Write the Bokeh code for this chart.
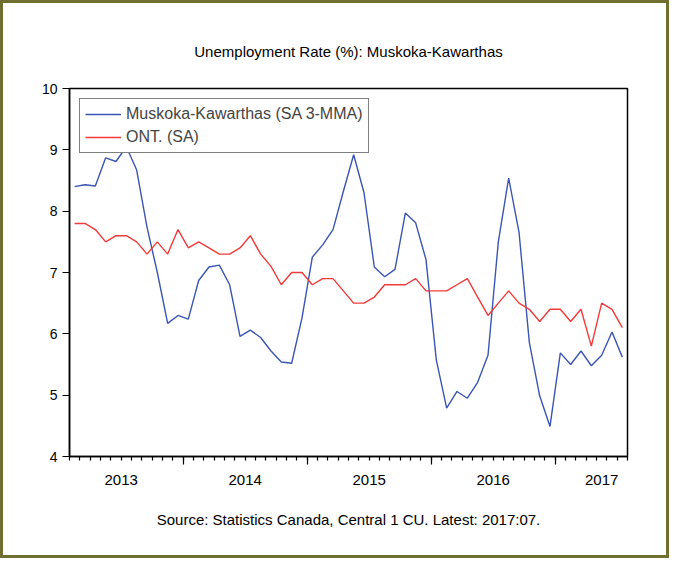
import pandas as pd
from bokeh.plotting import figure
from bokeh.models import FixedTicker, LinearAxis, Range1d, Title
from bokeh.embed import file_html
from bokeh.resources import INLINE

# ---- data -------------------------------------------------------------
months = pd.period_range("2013-02", "2017-07", freq="M")

muskoka = [8.40, 8.43, 8.41, 8.87, 8.81, 9.05, 8.67, 7.74, 7.00, 6.17,
           6.30, 6.24, 6.87, 7.09, 7.12, 6.80, 5.96, 6.06, 5.94, 5.72,
           5.54, 5.52, 6.26, 7.25, 7.45, 7.70, 8.32, 8.92, 8.30, 7.09,
           6.93, 7.05, 7.97, 7.81, 7.21, 5.57, 4.79, 5.06, 4.95, 5.21,
           5.65, 7.50, 8.54, 7.66, 5.86, 4.99, 4.49, 5.69, 5.50, 5.72,
           5.48, 5.65, 6.03, 5.62]

ontario = [7.8, 7.8, 7.7, 7.5, 7.6, 7.6, 7.5, 7.3, 7.5, 7.3,
           7.7, 7.4, 7.5, 7.4, 7.3, 7.3, 7.4, 7.6, 7.3, 7.1,
           6.8, 7.0, 7.0, 6.8, 6.9, 6.9, 6.7, 6.5, 6.5, 6.6,
           6.8, 6.8, 6.8, 6.9, 6.7, 6.7, 6.7, 6.8, 6.9, 6.6,
           6.3, 6.5, 6.7, 6.5, 6.4, 6.2, 6.4, 6.4, 6.2, 6.4,
           5.8, 6.5, 6.4, 6.1]

y_ticks = [4, 5, 6, 7, 8, 9, 10]
series_names = ["Muskoka-Kawarthas (SA 3-MMA)", "ONT. (SA)"]
title_text = "Unemployment Rate (%): Muskoka-Kawarthas"
source_text = "Source: Statistics Canada, Central 1 CU. Latest: 2017:07."

# ---- derived positions ------------------------------------------------
n = len(months)
x = list(range(n))
month_bounds = [i - 0.5 for i in range(n + 1)]
jan_bounds = [i - 0.5 for i, m in enumerate(months) if m.month == 1]
years = sorted(set(m.year for m in months))
# label each year at the middle of its calendar year, kept inside the frame
year_pos = []
for y in years:
    idx = [i for i, m in enumerate(months) if m.year == y]
    start = idx[0] - 0.5 - (months[idx[0]].month - 1)
    year_pos.append(min(start + 6, n - 3))

FONT = "Liberation Sans"
BLUE = "#3a55b4"
RED = "#f23a3a"

p = figure(width=669, height=558,
           x_range=Range1d(-0.5, n - 0.5), y_range=Range1d(4, 10),
           output_backend="svg", toolbar_location=None,
           min_border_left=66, min_border_right=45,
           min_border_top=85, min_border_bottom=105)
p.grid.visible = False
p.outline_line_color = "black"
p.outline_line_width = 1.5
p.background_fill_color = "white"
p.border_fill_color = "white"
p.styles = {"border": "3px solid #6f6f2f"}

# title (above the frame)
p.title.text = title_text
p.title.align = "center"
p.title.vertical_align = "middle"
p.title.text_font = FONT
p.title.text_font_size = "15px"
p.title.text_font_style = "normal"
p.title.text_color = "black"
p.title.standoff = 55

# x axis: month ticks, long ticks at year boundaries, no labels
xa = p.xaxis[0]
xa.ticker = FixedTicker(ticks=jan_bounds, minor_ticks=month_bounds)
xa.major_tick_in = 0
xa.major_tick_out = 8
xa.minor_tick_in = 0
xa.minor_tick_out = 4
xa.major_label_overrides = {t: "" for t in jan_bounds}
xa.major_label_text_font_size = "0px"
xa.axis_line_width = 1.5
xa.major_tick_line_width = 1.2
xa.minor_tick_line_width = 1.2

# second axis carrying the year labels
year_axis = LinearAxis(ticker=FixedTicker(ticks=year_pos),
                       major_label_overrides={pos: str(y) for pos, y in zip(year_pos, years)})
year_axis.axis_line_color = None
year_axis.major_tick_line_color = None
year_axis.minor_tick_line_color = None
year_axis.major_tick_out = 0
year_axis.major_tick_in = 0
year_axis.major_label_standoff = 10
year_axis.major_label_text_font = FONT
year_axis.major_label_text_font_size = "15px"
year_axis.major_label_text_color = "black"
p.add_layout(year_axis, "below")

# source line below
p.add_layout(Title(text=source_text, align="center", vertical_align="middle",
                   text_font=FONT, text_font_size="15px",
                   text_font_style="normal", text_color="black",
                   standoff=44), "below")

ya = p.yaxis[0]
ya.ticker = FixedTicker(ticks=y_ticks)
ya.major_tick_in = 0
ya.major_tick_out = 7
ya.minor_tick_line_color = None
ya.major_label_standoff = 5
ya.major_label_text_font = FONT
ya.major_label_text_font_size = "14px"
ya.major_label_text_color = "black"
ya.axis_line_width = 1.5
ya.major_tick_line_width = 1.2

p.line(x, muskoka, color=BLUE, line_width=1.4, legend_label=series_names[0])
p.line(x, ontario, color=RED, line_width=1.4, legend_label=series_names[1])

lg = p.legend[0]
lg.location = "top_left"
lg.margin = 10
lg.padding = 5
lg.spacing = 3
lg.label_height = 20
lg.glyph_height = 20
lg.glyph_width = 36
lg.label_standoff = 5
lg.label_text_font = FONT
lg.label_text_font_size = "16px"
lg.border_line_color = "black"
lg.border_line_width = 1
lg.background_fill_alpha = 1

open("out.html", "w").write(file_html(p, INLINE))
